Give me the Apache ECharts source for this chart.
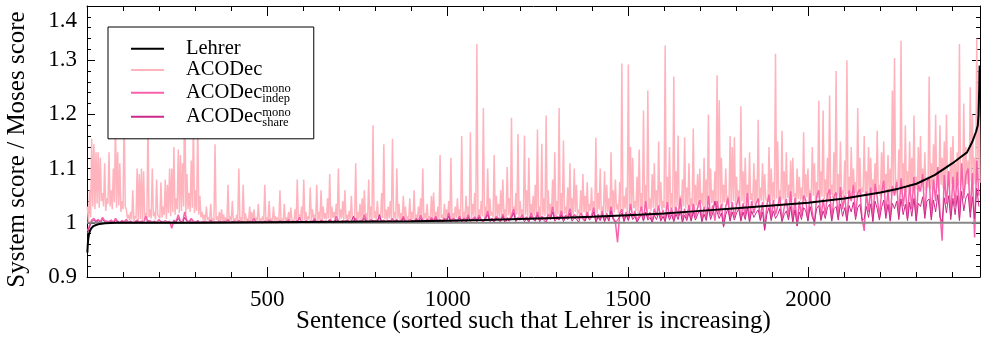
<!DOCTYPE html>
<html><head><meta charset="utf-8">
<script src="https://cdn.jsdelivr.net/npm/echarts@6/dist/echarts.min.js"></script>
<style>html,body{margin:0;padding:0;background:#fff}#c{width:981px;height:337px}</style>
</head><body><div id="c"></div>
<script>
// x axis tick labels and y axis tick labels
const xTickLabels = ['500', '1000', '1500', '2000'];
const yTickLabels = ['0.9', '1', '1.1', '1.2', '1.3', '1.4'];

// Lehrer (sorted, increasing): sentence index and score ratio
const lehrerX = [1, 2, 3, 5, 8, 12, 18, 25, 35, 50, 80, 150, 300, 500, 700, 900, 1000, 1100, 1200, 1300, 1400, 1500, 1600, 1700, 1800, 1900, 2000, 2100, 2200, 2250, 2300, 2350, 2400, 2420, 2440, 2455, 2465, 2470, 2472, 2474, 2475];
const lehrerY = [0.945, 0.958, 0.967, 0.977, 0.985, 0.990, 0.994, 0.996, 0.998, 0.999, 1.000, 1.000, 1.000, 1.001, 1.002, 1.003, 1.004, 1.005, 1.007, 1.009, 1.011, 1.014, 1.017, 1.022, 1.027, 1.032, 1.037, 1.045, 1.056, 1.063, 1.072, 1.088, 1.110, 1.120, 1.130, 1.150, 1.168, 1.180, 1.200, 1.250, 1.290];

// Moses reference (ratio 1)
const mosesX = [0, 2476];
const mosesY = [1, 1];

// ACODec series, read per block of 6 sentences (block k covers sentences 1+6k .. 6+6k).
// Values in thousandths above 1.0 (score ratio = 1 + v/1000).
// acodecHighMilli: top of the block (first half), acodecLowMilli: bottom of the block (second half).
const acodecHighMilli = [
30,60,155,145,130,130,120,55,110,45,
130,60,100,190,130,110,40,215,25,15,
20,60,12,100,90,100,95,18,190,25,
100,20,80,15,75,30,80,70,100,100,
140,45,135,125,110,295,90,55,115,190,
60,185,50,20,15,30,10,35,8,145,
12,20,25,15,10,70,12,40,8,15,
100,10,70,18,8,30,20,25,10,35,
8,12,70,10,40,8,30,12,10,60,
8,35,10,20,28,8,25,80,15,30,
80,20,12,65,25,15,70,20,60,30,
18,45,90,30,20,35,100,25,40,60,
15,22,50,12,110,20,35,45,60,18,
80,30,180,22,40,15,55,145,25,30,
40,155,20,100,35,18,50,30,12,45,
20,60,15,30,45,100,18,35,12,50,
56,20,30,125,15,35,25,40,120,18,
30,45,25,160,20,50,30,167,35,55,
330,25,40,212,30,100,45,20,125,50,
35,60,80,25,103,45,194,30,55,164,
40,25,161,60,120,35,50,70,172,30,
146,45,198,60,35,80,130,40,212,55,
152,30,65,110,45,100,70,25,60,90,
50,75,35,65,40,157,55,100,30,95,
70,45,130,60,80,35,75,294,50,65,
292,140,120,40,85,135,55,207,70,244,
45,90,110,60,150,75,40,327,85,140,
55,270,95,161,50,80,158,65,110,45,
174,70,90,100,55,120,80,200,100,60,
95,272,226,120,70,100,50,160,140,158,
85,60,215,95,120,70,130,55,110,80,
190,65,110,90,45,140,100,75,312,150,
60,170,95,130,70,115,120,55,100,85,
65,167,90,100,60,140,110,75,225,95,
207,80,120,235,70,130,280,90,150,60,
115,300,85,140,100,75,212,120,65,160,
95,140,120,80,110,170,70,130,150,90,
125,100,244,304,80,135,336,110,180,95,
150,120,198,85,140,160,100,130,75,270,
110,145,200,90,180,120,150,200,95,140,
160,110,130,330,100,220,140,115,250,200,
120,340,280];

const acodecLowMilli = [
0,10,30,25,35,28,40,30,22,35,
30,25,38,28,32,20,25,30,8,5,
6,4,8,5,7,3,6,4,10,8,
12,6,15,8,10,14,7,18,12,20,
15,25,18,22,30,16,25,20,28,18,
22,15,10,6,4,5,3,4,2,5,
3,2,4,1,3,2,4,3,1,2,
3,2,1,4,2,3,1,2,4,3,
2,4,1,3,2,1,3,2,4,1,
3,2,4,1,5,3,2,4,6,3,
5,3,6,4,8,5,3,6,4,7,
6,8,5,9,7,10,6,8,5,7,
4,6,3,5,2,6,4,7,5,3,
6,4,8,5,10,6,9,7,5,8,
6,9,5,8,4,7,6,3,5,4,
6,3,5,7,4,6,8,5,7,4,
6,8,5,9,6,10,7,5,8,6,
9,7,10,8,6,11,9,7,12,8,
10,8,12,9,11,7,13,10,8,12,
9,13,11,8,14,10,12,9,15,11,
12,10,14,11,16,9,13,15,12,10,
14,12,16,10,18,13,11,15,17,12,
16,14,12,18,15,20,13,17,14,19,
15,18,22,14,20,17,24,16,21,18,
20,16,23,19,25,17,22,20,26,18,
24,20,27,22,18,26,23,28,21,25,
22,28,25,20,30,24,27,22,29,26,
28,24,31,26,23,30,27,32,25,29,
26,32,28,35,30,27,34,29,36,31,
33,28,36,30,38,32,29,35,40,33,
35,30,40,34,38,31,42,36,33,39,
37,41,34,44,38,35,42,39,45,36,
40,43,37,46,39,42,48,38,44,41,
43,39,47,41,45,50,40,46,42,48,
44,49,41,52,46,43,50,47,54,45,
48,53,46,50,55,47,52,49,56,51,
50,55,48,58,52,54,49,60,53,56,
55,51,60,54,58,62,53,59,56,64,
58,55,63,60,57,66,61,59,65,62,
60,67,63,58,70,64,62,68,65,72,
66,63,70,68,74,65,71,69,76,70,
72,78,74];

// ACODec mono indep / mono share, one value per block of 6 sentences (thousandths above 1.0)
const indepMilli = [
-15,-5,5,8,3,6,2,10,4,3,
2,5,1,8,3,0,4,2,6,1,
3,0,2,5,1,3,0,12,2,4,
1,3,0,6,2,1,4,0,3,-10,
5,2,15,3,1,20,4,2,8,3,
1,4,0,2,3,0,1,5,0,2,
0,3,1,0,2,6,0,1,3,0,
4,0,2,1,0,3,1,8,0,2,
1,0,3,1,5,0,2,0,1,4,
0,2,1,6,0,3,1,0,10,2,
1,4,0,3,2,8,1,0,5,2,
3,1,6,2,0,12,3,1,4,2,
5,2,0,3,8,1,4,2,15,3,
2,6,1,4,3,10,2,5,1,4,
3,8,2,5,1,4,12,3,2,6,
4,2,8,3,14,5,2,7,3,10,
4,12,3,6,2,9,5,18,3,8,
6,4,12,3,9,5,15,4,7,11,
5,14,6,3,10,22,5,8,4,12,
7,5,16,4,9,6,13,25,5,10,
8,15,6,11,4,18,9,7,20,6,
12,8,5,16,10,30,7,12,9,22,
6,14,10,26,8,15,12,7,18,11,
4,20,8,14,28,2,16,6,22,3,
18,5,30,9,2,-36,17,25,4,20,
6,35,10,22,3,14,30,5,40,8,
20,2,26,13,32,6,24,3,38,10,
28,4,30,12,45,2,26,8,33,5,
35,10,28,42,3,30,8,50,12,32,
4,40,15,35,-5,30,45,6,38,10,
33,48,5,36,12,55,3,40,18,35,
45,6,38,-10,32,52,8,42,15,30,
48,4,28,44,10,58,2,46,-5,40,
12,50,42,5,55,20,-5,48,60,8,
44,15,52,62,6,48,56,10,66,25,
50,5,60,40,70,12,55,62,8,-15,
58,20,65,4,72,48,10,55,78,15,
62,6,68,50,75,12,82,30,66,8,
72,25,85,5,70,58,90,15,76,84,
10,80,40,103,20,-33,88,35,95,12,
85,30,94,8,110,45,88,100,20,92,
-27,115,50];

const shareMilli = [
-20,-8,2,5,1,4,0,6,2,1,
1,3,0,4,2,0,3,1,2,0,
2,0,1,3,0,2,1,0,4,1,
0,2,1,0,3,1,0,2,1,0,
3,1,8,2,0,10,2,1,4,0,
1,2,0,1,0,2,0,3,1,0,
2,0,1,3,0,1,0,2,0,1,
0,2,1,0,3,0,1,0,2,0,
1,0,2,0,1,3,0,1,0,2,
0,1,3,0,2,0,1,4,0,1,
2,0,1,3,0,5,1,0,2,1,
0,2,4,1,0,6,1,2,0,3,
1,0,3,12,1,2,0,4,8,1,
2,0,5,1,3,15,1,2,0,4,
1,3,0,6,2,1,8,0,3,2,
4,1,6,2,8,3,0,5,2,7,
2,8,1,4,0,6,3,12,1,5,
3,1,9,2,6,0,10,3,5,8,
2,10,4,1,7,15,2,5,1,9,
4,2,12,0,6,3,9,18,2,7,
5,10,2,8,1,12,6,3,14,2,
8,4,1,11,6,20,3,8,5,15,
2,10,6,18,3,9,7,1,12,6,
3,14,5,9,20,1,10,4,15,2,
12,3,22,6,1,5,11,18,2,14,
4,18,6,12,1,8,16,3,20,5,
10,1,14,6,18,3,12,2,20,5,
15,2,16,6,22,1,14,4,18,3,
20,5,15,24,2,16,4,28,6,18,
40,20,8,18,-8,15,26,3,20,5,
18,26,3,20,6,28,2,22,10,18,
24,4,20,-14,16,28,4,22,8,15,
26,2,15,22,5,30,1,24,-6,20,
6,28,22,3,30,10,2,26,32,4,
22,8,28,34,3,26,30,5,35,12,
28,3,32,20,38,6,28,34,4,8,
30,10,35,2,40,26,5,28,42,8,
34,3,36,26,40,6,44,15,34,4,
38,12,45,3,36,30,48,8,40,44,
5,42,20,52,10,2,46,18,50,6,
45,15,50,4,58,22,46,54,10,48,
8,64,30];

const blockStart = 1, blockSize = 6;
function toPairs(milli) {
  return milli.map((v, k) => [blockStart + blockSize * k, 1 + v / 1000]);
}
function toHighLowPairs(high, low) {
  const out = [];
  high.forEach((h, k) => {
    out.push([blockStart + blockSize * k, 1 + h / 1000]);
    out.push([blockStart + blockSize * k + blockSize / 2, 1 + low[k] / 1000]);
  });
  return out;
}
function zipPairs(xs, ys) { return xs.map((x, k) => [x, ys[k]]); }

const FONT = 'Liberation Serif';
const XMIN = 0, XMAX = 2476, YMIN = 0.9, YMAX = 1.4;

const chart = echarts.init(document.getElementById('c'), null, {renderer: 'canvas'});

function xAx(pos, interval, len, showLine, showLabel) {
  return {
    type: 'value', position: pos, min: XMIN, max: XMAX, interval: interval,
    axisLine: {show: showLine, onZero: false, lineStyle: {color: '#000', width: 1}},
    axisTick: {show: true, inside: true, length: len, lineStyle: {color: '#000', width: 1}},
    axisLabel: {show: showLabel, showMinLabel: false, showMaxLabel: false, margin: 11,
      fontFamily: FONT, fontSize: 23, color: '#000',
      formatter: v => { const k = Math.round(v / 500) - 1; return (v % 500 === 0 && xTickLabels[k]) ? xTickLabels[k] : ''; }},
    splitLine: {show: false}
  };
}
function yAx(pos, showLabel) {
  return {
    type: 'value', position: pos, min: YMIN, max: YMAX, interval: 0.1,
    axisLine: {show: true, onZero: false, lineStyle: {color: '#000', width: 1}},
    axisTick: {show: true, inside: true, length: 8, lineStyle: {color: '#000', width: 1}},
    minorTick: {show: true, splitNumber: 5, length: 4, lineStyle: {color: '#000', width: 1}},
    axisLabel: {show: showLabel, margin: 10, fontFamily: FONT, fontSize: 23, color: '#000',
      formatter: v => { const k = Math.round((v - YMIN) * 10); return k === 5 ? '{top|' + yTickLabels[k] + '}' : yTickLabels[k]; },
      rich: {top: {fontFamily: FONT, fontSize: 23, color: '#000', padding: [30, 0, 0, 0]}}},
    splitLine: {show: false}, minorSplitLine: {show: false}
  };
}

const xAxes = [xAx('bottom', 500, 10, true, true), xAx('bottom', 100, 5, false, false), xAx('top', 500, 10, true, false), xAx('top', 100, 5, false, false)];
xAxes[0].name = 'Sentence (sorted such that Lehrer is increasing)';
xAxes[0].nameLocation = 'middle';
xAxes[0].nameGap = 32;
xAxes[0].nameMoveOverlap = false;
xAxes[0].nameTextStyle = {fontFamily: FONT, fontSize: 25, color: '#000'};

const yAxes = [yAx('left', true), yAx('right', false)];
yAxes[0].name = 'System score / Moses score';
yAxes[0].nameLocation = 'middle';
yAxes[0].nameGap = 57;
yAxes[0].nameMoveOverlap = false;
yAxes[0].nameTextStyle = {fontFamily: FONT, fontSize: 25, color: '#000', padding: [0, 16, 0, 0]};

function lineSeries(name, data, color, width, z) {
  return {name: name, type: 'line', data: data, xAxisIndex: 0, yAxisIndex: 0,
    symbol: 'none', showSymbol: false, sampling: null, smooth: false, z: z,
    lineStyle: {color: color, width: width}, itemStyle: {color: color},
    emphasis: {disabled: true}, animation: false};
}

const option = {
  backgroundColor: '#fff',
  animation: false,
  grid: {left: 87, right: 1, top: 6, bottom: 60, containLabel: false, outerBoundsMode: 'none'},
  xAxis: xAxes,
  yAxis: yAxes,
  legend: {
    show: true, orient: 'vertical', left: 108, top: 27,
    data: ['Lehrer', 'ACODec', 'ACODec_indep', 'ACODec_share'],
    backgroundColor: '#fff', borderColor: '#000', borderWidth: 1, borderRadius: 0,
    padding: [11, 23, 10, 22], itemGap: 0, itemWidth: 33, itemHeight: 14,
    selectedMode: false,
    itemStyle: {opacity: 0},
    textStyle: {fontFamily: FONT, fontSize: 20.5, color: '#000', lineHeight: 21.4, padding: [0, 0, 0, 17],
      rich: {
        m: {fontFamily: FONT, fontSize: 20.5, color: '#000', lineHeight: 21.4},
        sup: {fontFamily: FONT, fontSize: 12.5, color: '#000', lineHeight: 12, width: 0, padding: [0, 0, 9, 0]},
        sub: {fontFamily: FONT, fontSize: 12.5, color: '#000', lineHeight: 10, padding: [11, 0, 0, 0]}
      }},
    formatter: function (name) {
      if (name === 'ACODec_indep') return '{m|ACODec}{sup|mono}{sub|indep}';
      if (name === 'ACODec_share') return '{m|ACODec}{sup|mono}{sub|share}';
      return '{m|' + name + '}';
    }
  },
  series: [
    lineSeries('ACODec', toHighLowPairs(acodecHighMilli, acodecLowMilli), '#ffb3bd', 1.5, 2),
    lineSeries('ACODec_indep', toPairs(indepMilli), '#f862ab', 1.5, 3),
    lineSeries('ACODec_share', toPairs(shareMilli), '#cc2a8a', 1, 4),
    lineSeries('Moses', zipPairs(mosesX, mosesY), '#888888', 2, 5),
    lineSeries('Lehrer', zipPairs(lehrerX, lehrerY), '#000000', 2, 6)
  ]
};
chart.setOption(option);
</script></body></html>
